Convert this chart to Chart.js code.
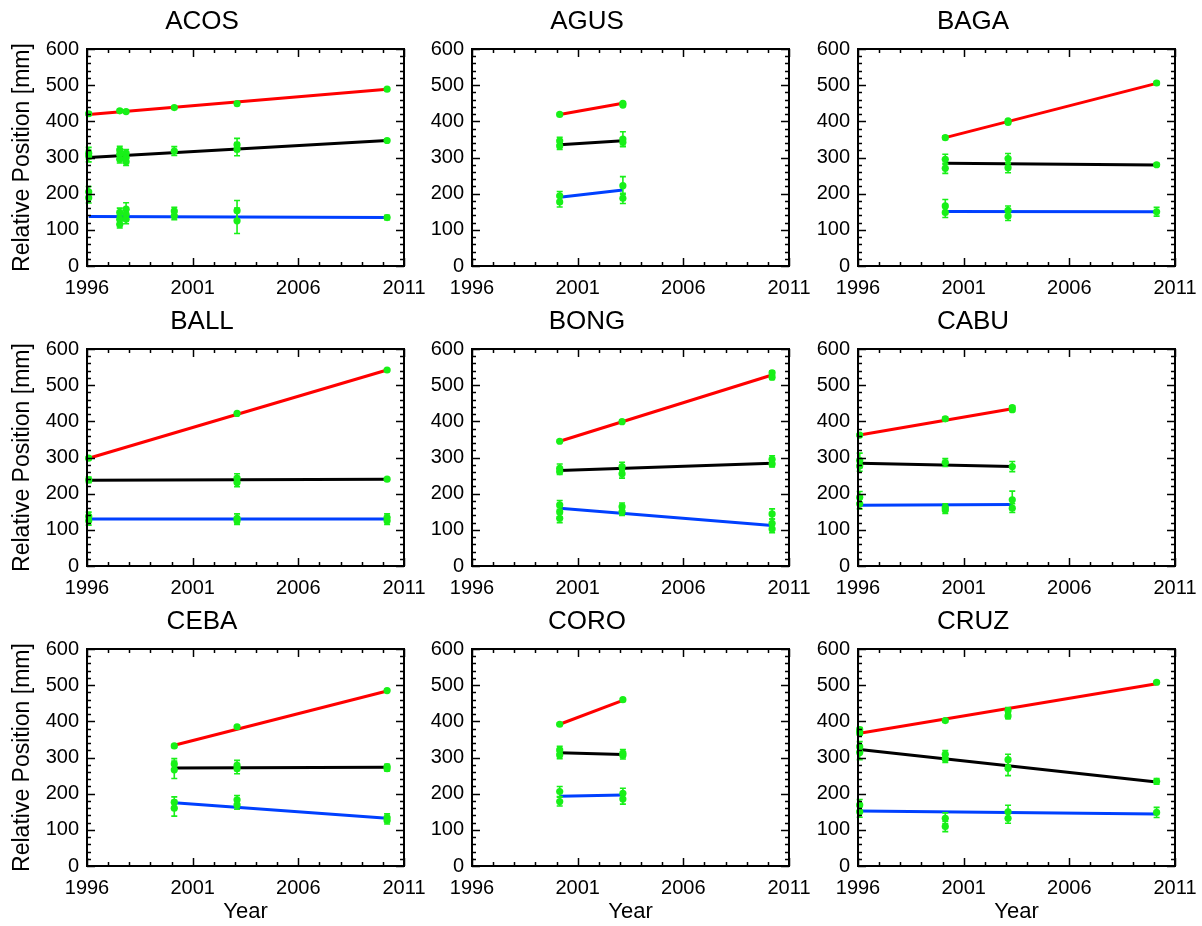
<!DOCTYPE html>
<html>
<head>
<meta charset="utf-8">
<script src="https://cdn.jsdelivr.net/npm/chart.js@4"></script>
<style>
  html, body { margin: 0; padding: 0; background: #fff; overflow: hidden; width: 1202px; height: 926px; }
  canvas { position: absolute; }
</style>
</head>
<body>
<script>
// station order = panel order (row by row)
const stations = ['ACOS', 'AGUS', 'BAGA', 'BALL', 'BONG', 'CABU', 'CEBA', 'CORO', 'CRUZ'];

// fitted trend lines: start / end epoch and value per component
const fitYears = [
    [1996.08, 2010.2], [2000.15, 2003.14], [2000.13, 2010.13],
    [1996.08, 2010.2], [2000.15, 2010.2], [1996.08, 2003.3],
    [2000.13, 2010.2], [2000.15, 2003.14], [1996.08, 2010.13]
];
const fitRed = [[419, 489], [419, 450], [355, 505], [298, 542], [345, 528], [362, 435], [334, 484], [392, 458], [367, 504]];
const fitBlack = [[300, 347], [335, 346], [284, 279], [237, 240], [264, 284], [284, 275], [271, 273], [313, 308], [322, 232]];
const fitBlue = [[137, 134], [190, 210], [151, 150], [130, 130], [160, 112], [168, 170], [175, 132], [193, 196], [152, 144]];

// observations: [year, value, error half-length]
const obsRed = [
    [[1996.08, 421, 4], [1997.55, 429, 4], [1997.85, 427, 4], [2000.13, 438, 3], [2003.1, 449, 5], [2010.2, 489, 3]],
    [[2000.15, 419, 3], [2003.14, 450, 4], [2003.14, 445, 4]],
    [[2000.13, 355, 5], [2003.1, 401, 4], [2003.1, 397, 4], [2010.13, 506, 4]],
    [[1996.08, 298, 3], [2003.1, 422, 3], [2010.2, 542, 3]],
    [[2000.15, 345, 3], [2003.1, 399, 4], [2010.2, 534, 6], [2010.2, 522, 6]],
    [[1996.08, 362, 3], [2000.13, 407, 5], [2003.3, 438, 5], [2003.3, 432, 5]],
    [[2000.13, 332, 4], [2003.1, 385, 3], [2010.2, 485, 3]],
    [[2000.15, 392, 3], [2003.14, 460, 3]],
    [[1996.08, 377, 6], [1996.08, 368, 6], [2000.13, 402, 4], [2003.1, 430, 8], [2003.1, 415, 8], [2010.13, 508, 3]]
];
const obsBlack = [
    [[1996.08, 312, 16], [1996.08, 304, 16], [1997.55, 321, 10], [1997.55, 309, 10], [1997.55, 295, 10], [1997.85, 312, 10],
     [1997.85, 300, 10], [1997.85, 288, 10], [2000.13, 318, 12], [2003.1, 335, 18], [2003.1, 323, 18], [2010.2, 347, 4]],
    [[2000.15, 346, 10], [2000.15, 332, 10], [2003.14, 351, 20], [2003.14, 342, 12]],
    [[2000.13, 295, 14], [2000.13, 270, 14], [2003.1, 297, 14], [2003.1, 272, 14], [2010.13, 280, 4]],
    [[1996.08, 238, 8], [2003.1, 243, 12], [2003.1, 231, 12], [2010.2, 240, 3]],
    [[2000.15, 270, 12], [2000.15, 261, 8], [2003.1, 275, 12], [2003.1, 255, 12], [2010.2, 295, 10], [2010.2, 282, 8]],
    [[1996.08, 292, 20], [1996.08, 277, 15], [2000.13, 286, 11], [2003.3, 275, 14]],
    [[2000.13, 282, 15], [2000.13, 266, 24], [2003.1, 278, 14], [2003.1, 269, 14], [2010.2, 275, 6], [2010.2, 269, 6]],
    [[2000.15, 321, 10], [2000.15, 307, 10], [2003.14, 312, 10], [2003.14, 306, 10]],
    [[1996.08, 330, 14], [1996.08, 314, 20], [2000.13, 309, 10], [2000.13, 296, 10], [2003.1, 294, 15], [2003.1, 270, 20], [2010.13, 234, 8]]
];
const obsBlue = [
    [[1996.08, 205, 15], [1996.08, 189, 15], [1997.55, 148, 12], [1997.55, 129, 12], [1997.55, 115, 10], [1997.85, 157, 18],
     [1997.85, 143, 12], [1997.85, 129, 12], [2000.13, 152, 10], [2000.13, 138, 10], [2003.1, 153, 28], [2003.1, 125, 35], [2010.2, 134, 6]],
    [[2000.15, 194, 12], [2000.15, 177, 14], [2003.14, 222, 25], [2003.14, 187, 14]],
    [[2000.13, 166, 18], [2000.13, 148, 14], [2003.1, 154, 12], [2003.1, 138, 12], [2010.13, 150, 12]],
    [[1996.08, 137, 12], [1996.08, 125, 12], [2003.1, 132, 12], [2003.1, 125, 10], [2010.2, 134, 10], [2010.2, 125, 10]],
    [[2000.15, 169, 12], [2000.15, 150, 14], [2000.15, 132, 12], [2003.1, 164, 10], [2003.1, 150, 10], [2010.2, 144, 14], [2010.2, 118, 12], [2010.2, 102, 10]],
    [[1996.08, 190, 16], [1996.08, 172, 14], [2000.13, 162, 10], [2000.13, 155, 10], [2003.3, 183, 24], [2003.3, 160, 12]],
    [[2000.13, 176, 15], [2000.13, 160, 22], [2003.1, 183, 12], [2003.1, 169, 12], [2010.2, 134, 10], [2010.2, 126, 10]],
    [[2000.15, 206, 14], [2000.15, 178, 12], [2003.14, 201, 14], [2003.14, 185, 14]],
    [[1996.08, 169, 15], [1996.08, 150, 15], [2000.13, 132, 15], [2000.13, 109, 14], [2003.1, 150, 18], [2003.1, 132, 14], [2010.13, 148, 14]]
];

const xTickYears = [1996, 2001, 2006, 2011];

const GREEN = 'rgb(24, 240, 24)';
const COLORS = { red: '#ff0000', black: '#000000', blue: '#0040ff' };

// panel geometry (plot areas)
const plotLefts = [87, 472, 858];
const plotTops = [49, 349, 649];
const PLOT_W = 317, PLOT_H = 217, Y_AXIS_W = 87, TITLE_H = 49;

Chart.defaults.font.family = '"Liberation Sans", Arial, Helvetica, sans-serif';
Chart.defaults.color = '#000';

// error bars on the observation datasets
const errorBarPlugin = {
    id: 'errorBars',
    afterDatasetsDraw(chart) {
        const { ctx, scales: { x, y } } = chart;
        ctx.save();
        ctx.strokeStyle = GREEN;
        ctx.lineWidth = 1.6;
        chart.data.datasets.forEach(ds => {
            if (!ds.errorBars) return;
            ds.data.forEach(d => {
                const px = x.getPixelForValue(d.x);
                const top = y.getPixelForValue(d.y + d.err);
                const bot = y.getPixelForValue(d.y - d.err);
                ctx.beginPath();
                ctx.moveTo(px, top); ctx.lineTo(px, bot);
                ctx.moveTo(px - 3, top); ctx.lineTo(px + 3, top);
                ctx.moveTo(px - 3, bot); ctx.lineTo(px + 3, bot);
                ctx.stroke();
            });
        });
        ctx.restore();
    }
};

// box frame with inward ticks on all four sides
const framePlugin = {
    id: 'frame',
    afterDraw(chart) {
        const { ctx, chartArea: a, scales: { x, y } } = chart;
        ctx.save();
        ctx.strokeStyle = '#000';
        ctx.lineWidth = 1.5;
        ctx.beginPath();
        for (let yr = 1996; yr <= 2011; yr++) {
            const px = Math.round(x.getPixelForValue(yr)) + 0.5;
            const len = (yr - 1996) % 5 === 0 ? 8 : 4;
            ctx.moveTo(px, a.bottom); ctx.lineTo(px, a.bottom - len);
            ctx.moveTo(px, a.top); ctx.lineTo(px, a.top + len);
        }
        for (let v = 0; v <= 600; v += 20) {
            const py = Math.round(y.getPixelForValue(v)) + 0.5;
            const len = v % 100 === 0 ? 8 : 4;
            ctx.moveTo(a.left, py); ctx.lineTo(a.left + len, py);
            ctx.moveTo(a.right, py); ctx.lineTo(a.right - len, py);
        }
        ctx.stroke();
        ctx.lineWidth = 2;
        ctx.strokeRect(a.left, a.top, a.right - a.left, a.bottom - a.top);
        ctx.restore();
    }
};

function fitDataset(years, vals, color) {
    return {
        data: years.map((yr, i) => ({ x: yr, y: vals[i] })),
        showLine: true,
        borderColor: color,
        borderWidth: 3,
        pointRadius: 0,
        fill: false,
        order: 1,
        clip: false
    };
}

function obsDataset(obs) {
    return {
        data: obs.map(o => ({ x: o[0], y: o[1], err: o[2] })),
        errorBars: true,
        pointRadius: 3.6,
        pointBackgroundColor: GREEN,
        pointBorderWidth: 0,
        showLine: false,
        order: 0,
        clip: false
    };
}

function makePanel(i) {
    const col = i % 3, row = Math.floor(i / 3);
    const xAxisH = row === 2 ? 60 : 36;
    const canvas = document.createElement('canvas');
    const w = Y_AXIS_W * 2 + PLOT_W;
    const h = TITLE_H + PLOT_H + xAxisH;
    canvas.width = w;
    canvas.height = h;
    canvas.style.width = w + 'px';
    canvas.style.height = h + 'px';
    canvas.style.left = (plotLefts[col] - Y_AXIS_W) + 'px';
    canvas.style.top = (plotTops[row] - TITLE_H) + 'px';
    document.body.appendChild(canvas);

    return new Chart(canvas.getContext('2d'), {
        type: 'scatter',
        data: {
            datasets: [
                fitDataset(fitYears[i], fitRed[i], COLORS.red),
                fitDataset(fitYears[i], fitBlack[i], COLORS.black),
                fitDataset(fitYears[i], fitBlue[i], COLORS.blue),
                obsDataset(obsRed[i]),
                obsDataset(obsBlack[i]),
                obsDataset(obsBlue[i])
            ]
        },
        options: {
            responsive: false,
            animation: false,
            events: [],
            layout: { padding: { left: 0, right: Y_AXIS_W, top: 0, bottom: 0 } },
            plugins: {
                legend: { display: false },
                tooltip: { enabled: false },
                title: {
                    display: true,
                    text: stations[i],
                    font: { size: 26, weight: 'normal' },
                    color: '#000',
                    padding: { top: 6.4, bottom: 11.4 }
                }
            },
            scales: {
                x: {
                    type: 'linear',
                    min: 1996,
                    max: 2011,
                    afterBuildTicks: s => { s.ticks = xTickYears.map(v => ({ value: v })); },
                    afterFit: s => { s.height = xAxisH; },
                    grid: { display: false, drawTicks: false },
                    border: { display: false },
                    ticks: { font: { size: 20 }, padding: 10, maxRotation: 0, autoSkip: false, callback: v => String(v) },
                    title: {
                        display: row === 2,
                        text: 'Year',
                        font: { size: 22 },
                        padding: { top: 0, bottom: 1 }
                    }
                },
                y: {
                    min: 0,
                    max: 600,
                    afterFit: s => { s.width = Y_AXIS_W; },
                    grid: { display: false, drawTicks: false },
                    border: { display: false },
                    ticks: { stepSize: 100, font: { size: 20 }, padding: 8 },
                    title: {
                        display: col === 0,
                        text: 'Relative Position [mm]',
                        font: { size: 23 },
                        padding: { top: 8.5, bottom: 0 }
                    }
                }
            }
        },
        plugins: [errorBarPlugin, framePlugin]
    });
}

stations.forEach((s, i) => makePanel(i));
</script>
</body>
</html>
